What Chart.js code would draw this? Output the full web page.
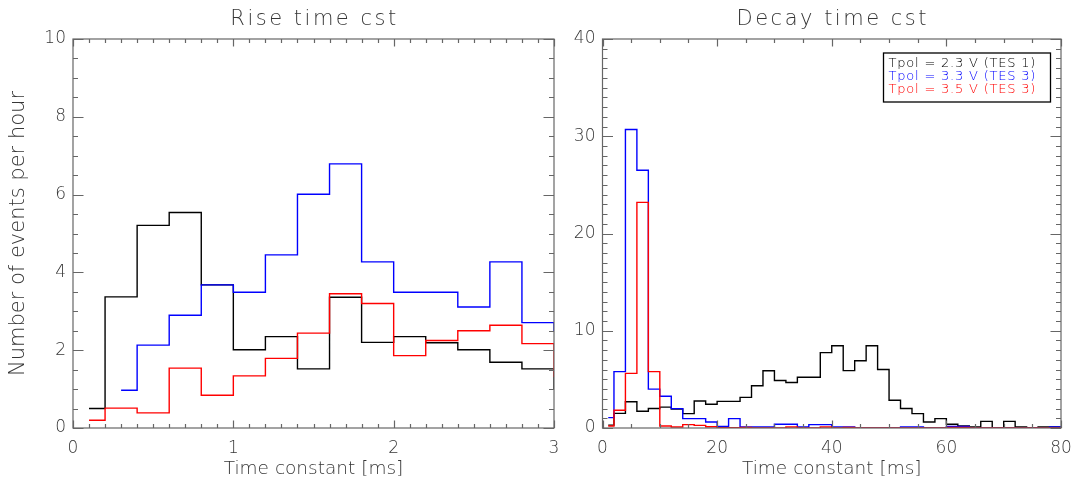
<!DOCTYPE html>
<html>
<head>
<meta charset="utf-8">
<script src="https://cdn.jsdelivr.net/npm/chart.js@4.4.1/dist/chart.umd.min.js"></script>
<style>
    html, body { margin: 0; padding: 0; background: #fff; }
    #wrap { position: relative; width: 1073px; height: 483px; }
    .panel { position: absolute; top: 0; height: 483px; }
    #left { left: 0; width: 570px; }
    #right { left: 570px; width: 503px; }
</style>
</head>
<body>
<div id="wrap">
    <div class="panel" id="left"><canvas id="riseChart"></canvas></div>
    <div class="panel" id="right"><canvas id="decayChart"></canvas></div>
</div>
<script>
// rise time histogram, bin centres in ms (0.2 ms bins)
const riseBins = [0.1, 0.3, 0.5, 0.7, 0.9, 1.1, 1.3, 1.5, 1.7, 1.9, 2.1, 2.3, 2.5, 2.7, 2.9, 3.1];
const riseTes1 = [0.50, 3.37, 5.21, 5.54, 3.68, 2.01, 2.35, 1.52, 3.36, 2.20, 2.35, 2.19, 2.01, 1.69, 1.52, 1.00];
const riseTes3a = [null, 0.97, 2.13, 2.90, 3.68, 3.49, 4.45, 6.01, 6.79, 4.27, 3.49, 3.49, 3.11, 4.27, 2.71, 2.50];
const riseTes3b = [0.20, 0.51, 0.39, 1.54, 0.84, 1.34, 1.79, 2.44, 3.45, 3.20, 1.86, 2.25, 2.50, 2.64, 2.17, 1.33];

// decay time histogram, bin centres in ms (2 ms bins)
const decayBins = [1, 3, 5, 7, 9, 11, 13, 15, 17, 19, 21, 23, 25, 27, 29, 31, 33, 35, 37, 39,
    41, 43, 45, 47, 49, 51, 53, 55, 57, 59, 61, 63, 65, 67, 69, 71, 73, 75, 77, 79, 81];
const decayTes1 = [0.3, 1.5, 2.7, 1.72, 2.0, 2.15, 1.95, 1.48, 2.78, 2.44, 2.74, 2.74, 3.15, 4.35, 5.89, 4.88, 4.68, 5.22, 5.22, 7.75,
    8.45, 5.9, 6.92, 8.45, 6.02, 2.85, 2.0, 1.48, 0.62, 0.96, 0.38, 0.2, 0.1, 0.68, 0, 0.68, 0.1, 0, 0.1, 0.1, 0.1];
const decayTes3a = [1.07, 5.8, 30.7, 26.5, 4.0, 3.27, 1.99, 0.96, 0.96, 0.62, 0.15, 0.96, 0.1, 0.1, 0.1, 0.38, 0.38, 0.1, 0.35, 0.35,
    0.1, 0.1, 0, 0, 0, 0, 0.1, 0.1, 0, 0, 0.15, 0.15, 0, 0, 0, 0, 0, 0, 0, 0.1, 0.1];
const decayTes3b = [0.2, 1.82, 5.62, 23.2, 5.8, 0.2, 0.1, 0.35, 0.27, 0.13, 0.03, 0.03, 0.05, 0, 0, 0, 0.1, 0, 0, 0.1,
    0, 0.05, 0, 0, 0, 0, 0, 0, 0, 0, 0.05, 0.05, 0, 0, 0, 0, 0, 0, 0, 0, 0];

const seriesLabels = ['Tpol = 2.3 V (TES 1)', 'Tpol = 3.3 V (TES 3)', 'Tpol = 3.5 V (TES 3)'];
const seriesColors = ['#000000', '#0000ff', '#ff0000'];

const fontFamily = '"DejaVu Sans", "Liberation Sans", sans-serif';
const fontWeight = '200';
const textColor = '#363636';
const frameColor = '#666666';

// frame round the plot with inward ticks on all four sides
const frameTicks = {
    id: 'frameTicks',
    afterDatasetsDraw(chart, args, opts) {
        const ctx = chart.ctx;
        const a = chart.chartArea;
        const x = chart.scales.x;
        const y = chart.scales.y;
        ctx.save();
        ctx.strokeStyle = frameColor;
        ctx.lineWidth = 1.2;
        ctx.beginPath();
        let n = Math.round((x.max - x.min) / opts.xMinor);
        for (let i = 0; i <= n; i++) {
            const v = x.min + i * opts.xMinor;
            const r = v / opts.xMajor;
            const len = Math.abs(r - Math.round(r)) < 1e-6 ? 7.5 : 4;
            const px = Math.round(x.getPixelForValue(v)) + 0.5;
            ctx.moveTo(px, a.bottom); ctx.lineTo(px, a.bottom - len);
            ctx.moveTo(px, a.top); ctx.lineTo(px, a.top + len);
        }
        n = Math.round((y.max - y.min) / opts.yMinor);
        for (let i = 0; i <= n; i++) {
            const v = y.min + i * opts.yMinor;
            const r = v / opts.yMajor;
            const len = Math.abs(r - Math.round(r)) < 1e-6 ? 10.5 : 5;
            const py = Math.round(y.getPixelForValue(v)) + 0.5;
            ctx.moveTo(a.left, py); ctx.lineTo(a.left + len, py);
            ctx.moveTo(a.right, py); ctx.lineTo(a.right - len, py);
        }
        ctx.stroke();
        ctx.strokeRect(a.left, a.top, a.right - a.left, a.bottom - a.top);
        ctx.restore();
    }
};

// panel title above the plot
const panelTitle = {
    id: 'panelTitle',
    afterDraw(chart, args, opts) {
        const ctx = chart.ctx;
        const a = chart.chartArea;
        ctx.save();
        ctx.font = fontWeight + ' 21px ' + fontFamily;
        ctx.letterSpacing = '2.5px';
        ctx.fillStyle = textColor;
        ctx.textAlign = 'center';
        ctx.textBaseline = 'middle';
        ctx.fillText(opts.text, (a.left + a.right) / 2 + 1, 20);
        ctx.restore();
    }
};

// boxed legend with coloured text, top right of the plot
const boxLegend = {
    id: 'boxLegend',
    afterDraw(chart, args, opts) {
        if (!opts.show) return;
        const ctx = chart.ctx;
        const a = chart.chartArea;
        const w = 167, h = 49;
        const left = a.right - 10.5 - w;
        const top = a.top + 14;
        ctx.save();
        ctx.strokeStyle = '#000';
        ctx.lineWidth = 1.3;
        ctx.strokeRect(left, top, w, h);
        ctx.font = fontWeight + ' 13px ' + fontFamily;
        ctx.letterSpacing = '0.8px';
        ctx.textAlign = 'left';
        ctx.textBaseline = 'middle';
        chart.data.datasets.forEach(function(ds, i) {
            ctx.fillStyle = ds.borderColor;
            ctx.fillText(ds.label, left + 5, top + 10.5 + i * 13.3);
        });
        ctx.restore();
    }
};

function histSet(i, bins, values) {
    return {
        label: seriesLabels[i],
        data: bins.map(function(b, k) { return {x: b, y: values[k]}; }),
        borderColor: seriesColors[i],
        borderWidth: 1.4,
        stepped: 'middle',
        pointRadius: 0,
        fill: false,
        spanGaps: false,
        order: 2 - i
    };
}

function makeChart(canvasId, cfg) {
    const tickFont = {family: fontFamily, size: 17, weight: fontWeight};
    const ctx = document.getElementById(canvasId).getContext('2d');
    return new Chart(ctx, {
        type: 'line',
        data: {
            datasets: [
                histSet(0, cfg.bins, cfg.series[0]),
                histSet(1, cfg.bins, cfg.series[1]),
                histSet(2, cfg.bins, cfg.series[2])
            ]
        },
        options: {
            responsive: true,
            maintainAspectRatio: false,
            animation: false,
            layout: { padding: { top: 39, right: cfg.padRight, left: 0, bottom: 0 } },
            plugins: {
                legend: { display: false },
                tooltip: { enabled: false },
                panelTitle: { text: cfg.title },
                boxLegend: { show: cfg.legend },
                frameTicks: cfg.ticks
            },
            scales: {
                x: {
                    type: 'linear',
                    min: 0,
                    max: cfg.xMax,
                    grid: { display: false, drawTicks: false },
                    border: { display: false },
                    ticks: { stepSize: cfg.ticks.xMajor, padding: 10, color: textColor, font: tickFont, maxRotation: 0 },
                    title: {
                        display: true,
                        text: 'Time constant [ms]',
                        color: textColor,
                        font: { family: fontFamily, size: 18.5, weight: fontWeight },
                        padding: { top: 0, bottom: 3 }
                    },
                    afterFit: function(scale) {
                        scale.height = 55;
                        scale.paddingLeft = 0;
                        scale.paddingRight = 0;
                    }
                },
                y: {
                    type: 'linear',
                    min: 0,
                    max: cfg.yMax,
                    grid: { display: false, drawTicks: false },
                    border: { display: false },
                    ticks: { stepSize: cfg.ticks.yMajor, padding: 7, color: textColor, font: tickFont },
                    title: {
                        display: cfg.yTitle,
                        text: 'Number of events per hour',
                        color: textColor,
                        font: { family: fontFamily, size: 21, weight: fontWeight },
                        padding: { top: 6, bottom: 0 }
                    },
                    afterFit: function(scale) { scale.width = cfg.yWidth; }
                }
            }
        },
        plugins: [frameTicks, panelTitle, boxLegend]
    });
}

makeChart('riseChart', {
    bins: riseBins,
    series: [riseTes1, riseTes3a, riseTes3b],
    title: 'Rise time cst',
    xMax: 3,
    yMax: 10,
    yTitle: true,
    yWidth: 73,
    padRight: 16,
    legend: false,
    ticks: { xMajor: 1, xMinor: 0.1, yMajor: 2, yMinor: 0.5 }
});

makeChart('decayChart', {
    bins: decayBins,
    series: [decayTes1, decayTes3a, decayTes3b],
    title: 'Decay time cst',
    xMax: 80,
    yMax: 40,
    yTitle: false,
    yWidth: 32.5,
    padRight: 12,
    legend: true,
    ticks: { xMajor: 20, xMinor: 5, yMajor: 10, yMinor: 1 }
});
</script>
</body>
</html>
